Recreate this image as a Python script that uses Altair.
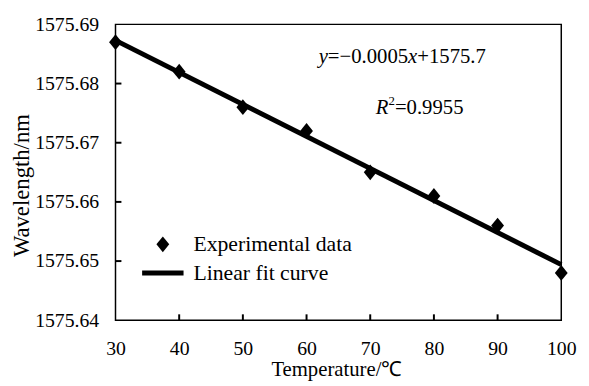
import altair as alt
import pandas as pd

# ---- data ----
temps = [30, 40, 50, 60, 70, 80, 90, 100]
wavelengths = [1575.687, 1575.682, 1575.676, 1575.672, 1575.665, 1575.661, 1575.656, 1575.648]
fit_temps = [30, 100]
fit_wavelengths = [1575.6873, 1575.6494]
x_ticks = [30, 40, 50, 60, 70, 80, 90, 100]
y_ticks = [1575.64, 1575.65, 1575.66, 1575.67, 1575.68, 1575.69]
series = ["Experimental data", "Linear fit curve"]

# annotation pieces: (text, italic?, size, x px, y px)
ann_text = ["y", "=\u22120.0005", "x", "+1575.7", "R", "2", "=0.9955"]
ann_italic = [True, False, True, False, True, False, False]
ann_size = [21, 21, 21, 21, 21, 13, 21]
ann_x = [206, 215.3, 296.7, 306, 264, 276.8, 283.3]
ann_y = [33, 33, 33, 33, 85, 78, 85]

FONT = "Liberation Serif"
W, H = 452, 300

diamond = "M0,-0.8L0.65,0L0,0.8L-0.65,0Z"
line_sym = "M-2.1,-0.25L2.1,-0.25L2.1,0.25L-2.1,0.25Z"

pts = pd.DataFrame({"T": temps, "W": wavelengths, "series": series[0]})
fit = pd.DataFrame({"T": fit_temps, "W": fit_wavelengths})
xt = pd.DataFrame({"T": x_ticks[1:-1]})
yt = pd.DataFrame({"W": y_ticks[1:-1]})

xscale = alt.Scale(domain=[30, 100], nice=False, zero=False)
yscale = alt.Scale(domain=[1575.64, 1575.69], nice=False, zero=False)

xaxis = alt.Axis(values=x_ticks, title="Temperature/\u2103", format="d",
                 labelPadding=19, labelFlush=False, labelOverlap=False,
                 titleX=224, titleY=56, titleBaseline="alphabetic", titleAlign="center",
                 titleFontSize=21)
yaxis = alt.Axis(values=y_ticks, title="Wavelength/nm", format=".2f",
                 labelPadding=17, labelFlush=False, labelOverlap=False,
                 titleAngle=270, titleX=-95, titleY=163, titleBaseline="middle",
                 titleAlign="center", titleFontSize=23)

X = alt.X("T:Q", scale=xscale, axis=xaxis)
Y = alt.Y("W:Q", scale=yscale, axis=yaxis)

line = alt.Chart(fit).mark_line(color="black", strokeWidth=5).encode(x=X, y=Y)

points = alt.Chart(pts).mark_point(filled=True, opacity=1, size=400, color="black",
                                   strokeWidth=0).encode(
    x=X, y=Y,
    shape=alt.Shape("series:N",
                    scale=alt.Scale(domain=series, range=[diamond, line_sym]),
                    legend=alt.Legend(title=None, orient="none", legendX=37, legendY=212,
                                      labelFont=FONT, labelFontSize=22, labelColor="black",
                                      labelLimit=400,
                                      symbolSize=400, symbolFillColor="black",
                                      symbolStrokeWidth=0, symbolOpacity=1,
                                      labelOffset=20, rowPadding=7, padding=0)),
)

xticks = alt.Chart(xt).mark_rule(color="black", strokeWidth=2).encode(
    x=X, y=alt.value(H), y2=alt.value(H - 6))
yticks = alt.Chart(yt).mark_rule(color="black", strokeWidth=2).encode(
    y=Y, x=alt.value(0), x2=alt.value(6))

texts = []
for t, it, s, px, py in zip(ann_text, ann_italic, ann_size, ann_x, ann_y):
    kw = dict(text=t, font=FONT, fontSize=s, align="left", baseline="middle", color="black")
    if it:
        kw["fontStyle"] = "italic"
    texts.append(alt.Chart().mark_text(**kw).encode(x=alt.value(px), y=alt.value(py)))

chart = alt.layer(line, points, xticks, yticks, *texts).properties(
    width=W, height=H,
    padding={"left": 109, "top": 14, "right": 20, "bottom": 60},
    autosize=alt.AutoSizeParams(type="none"),
).configure_view(stroke="black", strokeWidth=1.5).configure_axis(
    domain=False, ticks=False, tickSize=0, grid=False,
    labelFont=FONT, labelFontSize=20, labelColor="black",
    titleFont=FONT, titleColor="black", titleFontWeight="normal",
)

chart.save("out.html", embed_options={"renderer": "svg", "actions": False})
